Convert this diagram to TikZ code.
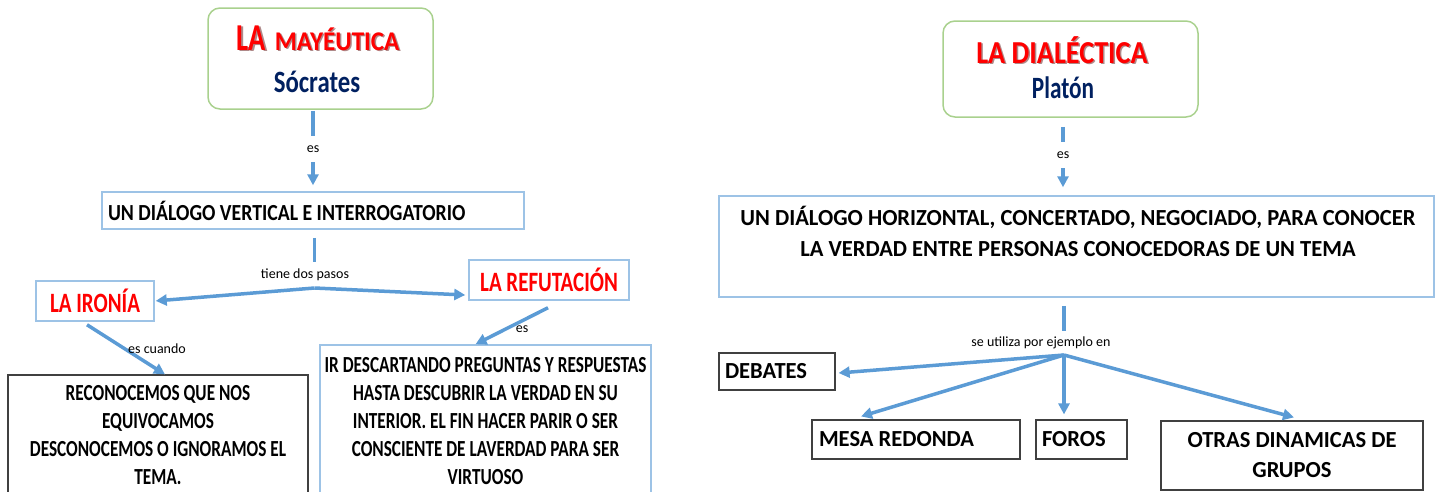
\documentclass[tikz,border=0pt]{standalone}
\usepackage{fontspec}
\setmainfont{Carlito}
\newfontfamily\fLeft[FakeStretch=0.75]{Carlito}
\newfontfamily\fDia[FakeStretch=0.86]{Carlito}
\newfontfamily\fSoc[FakeStretch=0.8]{Carlito}
\newfontfamily\fMid[FakeStretch=0.88]{Carlito}
\newfontfamily\fMay[FakeStretch=0.93]{Carlito}
\newfontfamily\fRight[FakeStretch=0.98]{Carlito}
\usetikzlibrary{arrows.meta,calc}
\definecolor{conncol}{RGB}{91,155,213}
\definecolor{lbord}{RGB}{157,195,230}
\definecolor{gbord}{RGB}{169,209,142}
\definecolor{dbord}{RGB}{64,64,64}
\definecolor{navy}{RGB}{0,32,96}
\definecolor{tred}{RGB}{255,0,0}
\definecolor{shadowcol}{RGB}{110,40,40}
\begin{document}
\begin{tikzpicture}[x=1pt,y=-1pt,
  conn/.style={draw=conncol, line width=3.5pt, -{Triangle[length=11pt,width=11pt]}},
  connline/.style={draw=conncol, line width=3.5pt},
  lbox/.style={draw=lbord, line width=1.5pt, inner sep=0pt},
  dbox/.style={draw=dbord, line width=1.2pt, inner sep=0pt},
  gbox/.style={draw=gbord, line width=1.5pt, rounded corners=12pt, inner sep=0pt},
  lbl/.style={font=\fontsize{14}{16}\selectfont, inner sep=0pt, text=black},
  lblw/.style={lbl, fill=white, minimum height=26pt},
  bodyL/.style={font=\fLeft\bfseries\fontsize{23}{28}\selectfont, align=center},
  bodyR/.style={font=\fRight\bfseries\fontsize{23}{31}\selectfont, align=center},
  redL/.style={text=tred, font=\fLeft\bfseries\fontsize{28}{30}\selectfont},
  shadowtext/.style={text=shadowcol, opacity=0.55}
]
\useasboundingbox (0,0) rectangle (1440,491);
\clip (0,0) rectangle (1440,491);

% ---------------- left part ----------------
\node[gbox, minimum width=225pt, minimum height=101pt] (m) at (320.5,58.5) {};
\node[anchor=base, shadowtext, inner sep=0pt] (mtsh) at (319.5,51.5)
  {{\fLeft\bfseries\fontsize{38}{40}\selectfont LA}\hspace{9pt}{\fMay\bfseries\fontsize{27}{30}\selectfont MAYÉUTICA}};
\node[anchor=base, text=tred, inner sep=0pt] (mt) at (318,50)
  {{\fLeft\bfseries\fontsize{38}{40}\selectfont LA}\hspace{9pt}{\fMay\bfseries\fontsize{27}{30}\selectfont MAYÉUTICA}};
\node[anchor=base, text=navy, inner sep=0pt, font=\fSoc\bfseries\fontsize{31}{34}\selectfont] (ms) at (317,92) {Sócrates};

\node[lbox, minimum width=422pt, minimum height=37pt, text width=410pt, inner xsep=6pt, align=flush left,
      font=\fDia\bfseries\fontsize{23}{28}\selectfont] (d1) at (313,210.5) {UN DIÁLOGO VERTICAL E INTERROGATORIO};

\node[lbox, redL, minimum width=118pt, minimum height=40pt] (iron) at (95,301) {LA IRONÍA};
\node[lbox, redL, minimum width=160pt, minimum height=40pt] (refut) at (549,280) {LA REFUTACIÓN};

\node[dbox, bodyL, minimum width=300pt, minimum height=120pt] (e) at (158,435)
  {RECONOCEMOS QUE NOS\\EQUIVOCAMOS\\DESCONOCEMOS O IGNORAMOS EL\\TEMA.};
\node[lbox, bodyL, minimum width=331pt, minimum height=152pt] (f) at (485.5,421)
  {IR DESCARTANDO PREGUNTAS Y RESPUESTAS\\HASTA DESCUBRIR LA VERDAD EN SU\\INTERIOR. EL FIN HACER PARIR O SER\\CONSCIENTE DE LAVERDAD PARA SER\\VIRTUOSO};

\draw[conn, shorten <=1pt, shorten >=6pt] (m.south -| d1.north) -- node[lblw, pos=0.48] (es1) {es} (d1.north);

\coordinate (fork) at (314.5,288);
\node[lblw] (tdp) at (305,275) {tiene dos pasos};
\draw[connline] ($(d1.south -| fork)+(0,8)$) -- (fork |- tdp.north);
\draw[conn, shorten >=1pt] (fork) -- (iron.east);
\draw[conn] (fork) -- ($(refut.west)+(-3,15)$);

\draw[conn] ($(iron.south)+(-8,3)$) -- ($(e.north)+(7,0)$);
\node[lbl] (esc) at (157,349) {es cuando};
\draw[conn] ($(refut.south)+(-1,7)$) -- ($(f.north)+(-10,0)$);
\node[lbl] (es2) at (522,329) {es};

% ---------------- right part ----------------
\node[gbox, minimum width=255pt, minimum height=96pt] (p) at (1070.5,69) {};
\node[anchor=base, shadowtext, inner sep=0pt, font=\fMid\bfseries\fontsize{32}{34}\selectfont] (ptsh) at (1063.5,64.5) {LA DIALÉCTICA};
\node[anchor=base, text=tred, inner sep=0pt, font=\fMid\bfseries\fontsize{32}{34}\selectfont] (pt) at (1062,63) {LA DIALÉCTICA};
\node[anchor=base, text=navy, inner sep=0pt, font=\fLeft\bfseries\fontsize{31}{34}\selectfont] (pp) at (1063,98) {Platón};

\node[lbox, minimum width=715pt, minimum height=101pt] (dh) at (1076.5,246.5) {};
\node[anchor=north, inner sep=0pt, bodyR] (dht) at (1078,205.5)
  {UN DIÁLOGO HORIZONTAL, CONCERTADO, NEGOCIADO, PARA CONOCER\\LA VERDAD ENTRE PERSONAS CONOCEDORAS DE UN TEMA};

\node[dbox, bodyR, minimum width=116pt, minimum height=37pt, text width=104pt, inner xsep=6pt, align=flush left] (deb) at (777,371.5) {DEBATES};
\node[dbox, bodyR, minimum width=208pt, minimum height=39pt, text width=194pt, inner xsep=7pt, align=flush left] (mesa) at (916,439.5) {MESA REDONDA};
\node[dbox, bodyR, minimum width=91pt, minimum height=39pt, text width=79pt, inner xsep=6pt, align=flush left] (foros) at (1081.5,439.5) {FOROS};
\node[dbox, font=\fRight\bfseries\fontsize{23}{30}\selectfont, align=center, minimum width=262pt, minimum height=69pt] (otras) at (1292,455.5) {OTRAS DINAMICAS DE\\GRUPOS};

\draw[conn, shorten <=9pt, shorten >=8pt] ($(p.south)+(-7.5,0)$) -- node[lblw, pos=0.48] (es3) {es} ($(dh.north)+(-13.5,0)$);

\coordinate (hub) at (1064,355);
\node[lblw, minimum height=24pt] (sup) at (1041,343) {se utiliza por ejemplo en};
\draw[connline] ($(dh.south -| hub)+(0,8)$) -- (hub |- sup.north);
\draw[conn] (hub) -- ($(deb.east)+(3,1.5)$);
\draw[conn] (hub) -- ($(mesa.north)+(-55,-3)$);
\draw[conn] (hub) -- ($(foros.north -| hub)+(0,-5)$);
\draw[conn] (hub) -- ($(otras.north)+(2,-3)$);
\end{tikzpicture}
\end{document}
